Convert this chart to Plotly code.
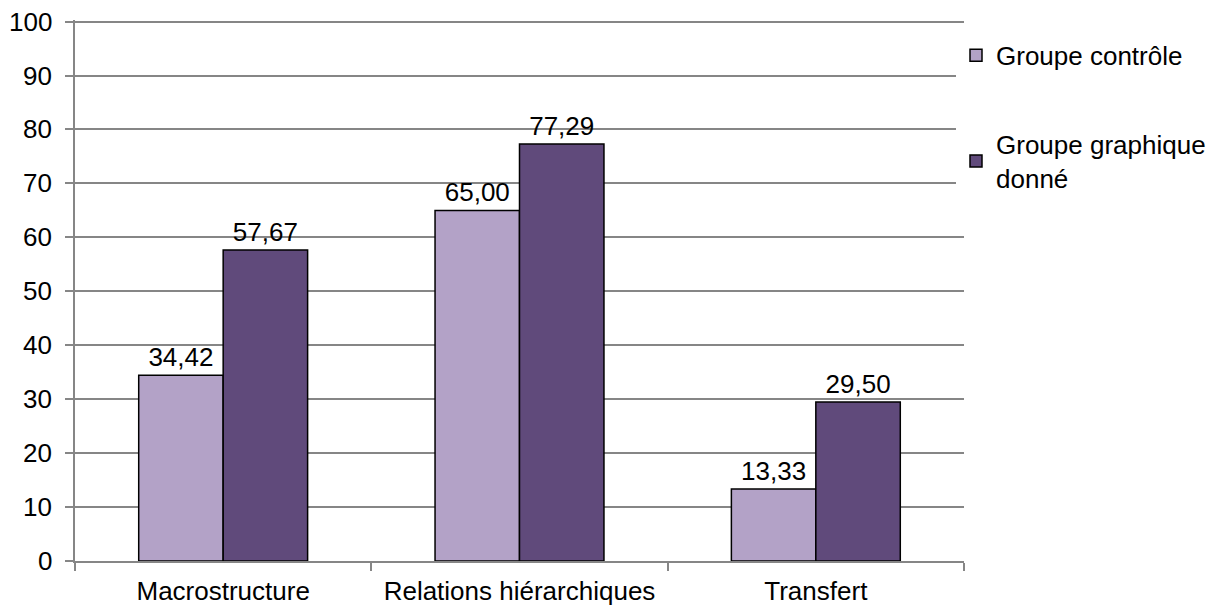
import plotly.graph_objects as go

categories = ["Macrostructure", "Relations hiérarchiques", "Transfert"]
controle = [34.42, 65.00, 13.33]
graphique = [57.67, 77.29, 29.50]
series_names = ["Groupe contrôle", "Groupe graphique<br>donné"]
colors = ["#B3A2C7", "#604A7B"]
y_ticks = [0, 10, 20, 30, 40, 50, 60, 70, 80, 90, 100]

def fr(v):
    return f"{v:.2f}".replace(".", ",")

FS = 26
fig = go.Figure()
for name, vals, col, grp in zip(series_names, [controle, graphique], colors, ["a", "b"]):
    fig.add_trace(go.Bar(
        x=categories, y=vals, name=name, legendgroup=grp,
        marker=dict(color=col, line=dict(color="black", width=1.5)),
        text=[fr(v) for v in vals], textposition="outside",
        textfont=dict(size=FS, color="black"), cliponaxis=False,
    ))

# y tick labels as annotations tied to the y scale (so the top "100" is not dropped)
for t in y_ticks:
    fig.add_annotation(x=0, xref="paper", y=t, yref="y", text=str(t),
                       showarrow=False, xanchor="right", yanchor="middle",
                       xshift=-21, font=dict(size=FS, color="black"))

grid = "#868686"
fig.update_layout(
    width=1215, height=608,
    margin=dict(l=67, r=257, t=12, b=55),
    paper_bgcolor="white", plot_bgcolor="white",
    font=dict(family="Liberation Sans, Arial", size=FS, color="black"),
    barmode="group", bargap=0.43, bargroupgap=0,
    legend=dict(x=0.991, y=0.978, xanchor="left", yanchor="top",
                traceorder="grouped", tracegroupgap=52,
                font=dict(size=FS), itemwidth=30),
    uniformtext=dict(minsize=FS, mode="show"),
)
fig.update_yaxes(range=[0, 100.3], tickvals=y_ticks, showgrid=True,
                 gridcolor=grid, gridwidth=1.5,
                 showline=True, linecolor=grid, linewidth=1.5,
                 ticks="outside", ticklen=8, tickcolor=grid, tickwidth=1.5,
                 zeroline=False, showticklabels=False, automargin=False)
fig.update_xaxes(showline=True, linecolor=grid, linewidth=1.5,
                 ticks="outside", tickson="boundaries", ticklen=8, tickcolor=grid, tickwidth=1.5,
                 tickfont=dict(size=FS), ticklabelstandoff=6, automargin=False)

fig.write_html("out.html")
